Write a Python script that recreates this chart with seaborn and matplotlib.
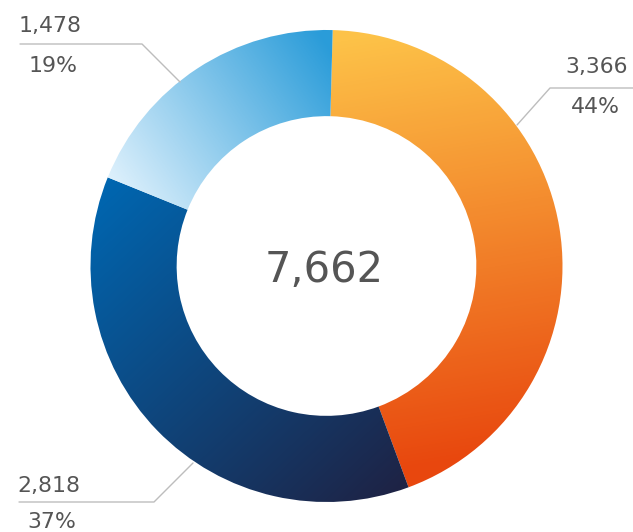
import numpy as np
import matplotlib
matplotlib.use("Agg")
import matplotlib.pyplot as plt
from matplotlib.colors import LinearSegmentedColormap
import seaborn as sns

# ---- data ----
categories = ["A", "B", "C"]
values = [3366, 2818, 1478]
value_labels = ["3,366", "2,818", "1,478"]
pct_labels = ["44%", "37%", "19%"]
total_label = "7,662"

sns.set_theme(style="white")
plt.rcParams["font.family"] = ["DejaVu Sans"]

W, H = 633, 532
fig = plt.figure(figsize=(W / 100, H / 100), dpi=100)
ax = fig.add_axes([0, 0, 1, 1])

cx, cy, R = 326.5, 266, 236
wedges, _ = ax.pie(values, startangle=88.5, counterclock=False, radius=R,
                   center=(cx, cy), frame=True,
                   wedgeprops=dict(width=R * 0.365, linewidth=0))
ax.set_xlim(0, W)
ax.set_ylim(0, H)
ax.set_aspect("equal")
ax.axis("off")

# gradients: (color start, color end, point start, point end) in pixel coords (y down)
grads = [
    ("#FDC248", "#E8470E", (340, 40), (410, 470)),
    ("#0066B0", "#1E2345", (100, 190), (390, 500)),
    ("#DDF0FC", "#2A9CD9", (115, 185), (325, 40)),
]
xx, yy = np.meshgrid(np.arange(W) + 0.5, np.arange(H) + 0.5)
for w, (c0, c1, p0, p1) in zip(wedges, grads):
    p0 = np.array([p0[0], H - p0[1]], float)
    p1 = np.array([p1[0], H - p1[1]], float)
    d = p1 - p0
    t = ((xx - p0[0]) * d[0] + (yy - p0[1]) * d[1]) / (d @ d)
    t = np.clip(t, 0, 1)
    cmap = LinearSegmentedColormap.from_list("g", [c0, c1])
    im = ax.imshow(t, cmap=cmap, vmin=0, vmax=1, extent=(0, W, 0, H),
                   origin="lower", interpolation="bilinear", zorder=2)
    im.set_clip_path(w)
    w.set_facecolor("none")

txt = "#555555"
lc = "#BDBDBD"
fs = 15.8

def Y(y):
    return H - y

# center total
ax.text(cx - 2, Y(282), total_label, ha="center", va="baseline", fontsize=30,
        color=txt, zorder=5)

# 1,478 label (top-left)
ax.plot([20, 142, 180], [Y(44), Y(44), Y(82)], color=lc, lw=1, zorder=4)
ax.text(19, Y(32), value_labels[2], ha="left", va="baseline", fontsize=fs, color=txt)
ax.text(29, Y(72), pct_labels[2], ha="left", va="baseline", fontsize=fs, color=txt)

# 3,366 label (top-right)
ax.plot([633, 550, 517], [Y(88), Y(88), Y(125)], color=lc, lw=1, zorder=4)
ax.text(628, Y(73), value_labels[0], ha="right", va="baseline", fontsize=fs, color=txt)
ax.text(620, Y(113), pct_labels[0], ha="right", va="baseline", fontsize=fs, color=txt)

# 2,818 label (bottom-left)
ax.plot([19, 154, 193], [Y(502), Y(502), Y(463)], color=lc, lw=1, zorder=4)
ax.text(17, Y(492), value_labels[1], ha="left", va="baseline", fontsize=fs, color=txt)
ax.text(27, Y(528.5), pct_labels[1], ha="left", va="baseline", fontsize=fs, color=txt)

fig.savefig("out.png", dpi=100)
